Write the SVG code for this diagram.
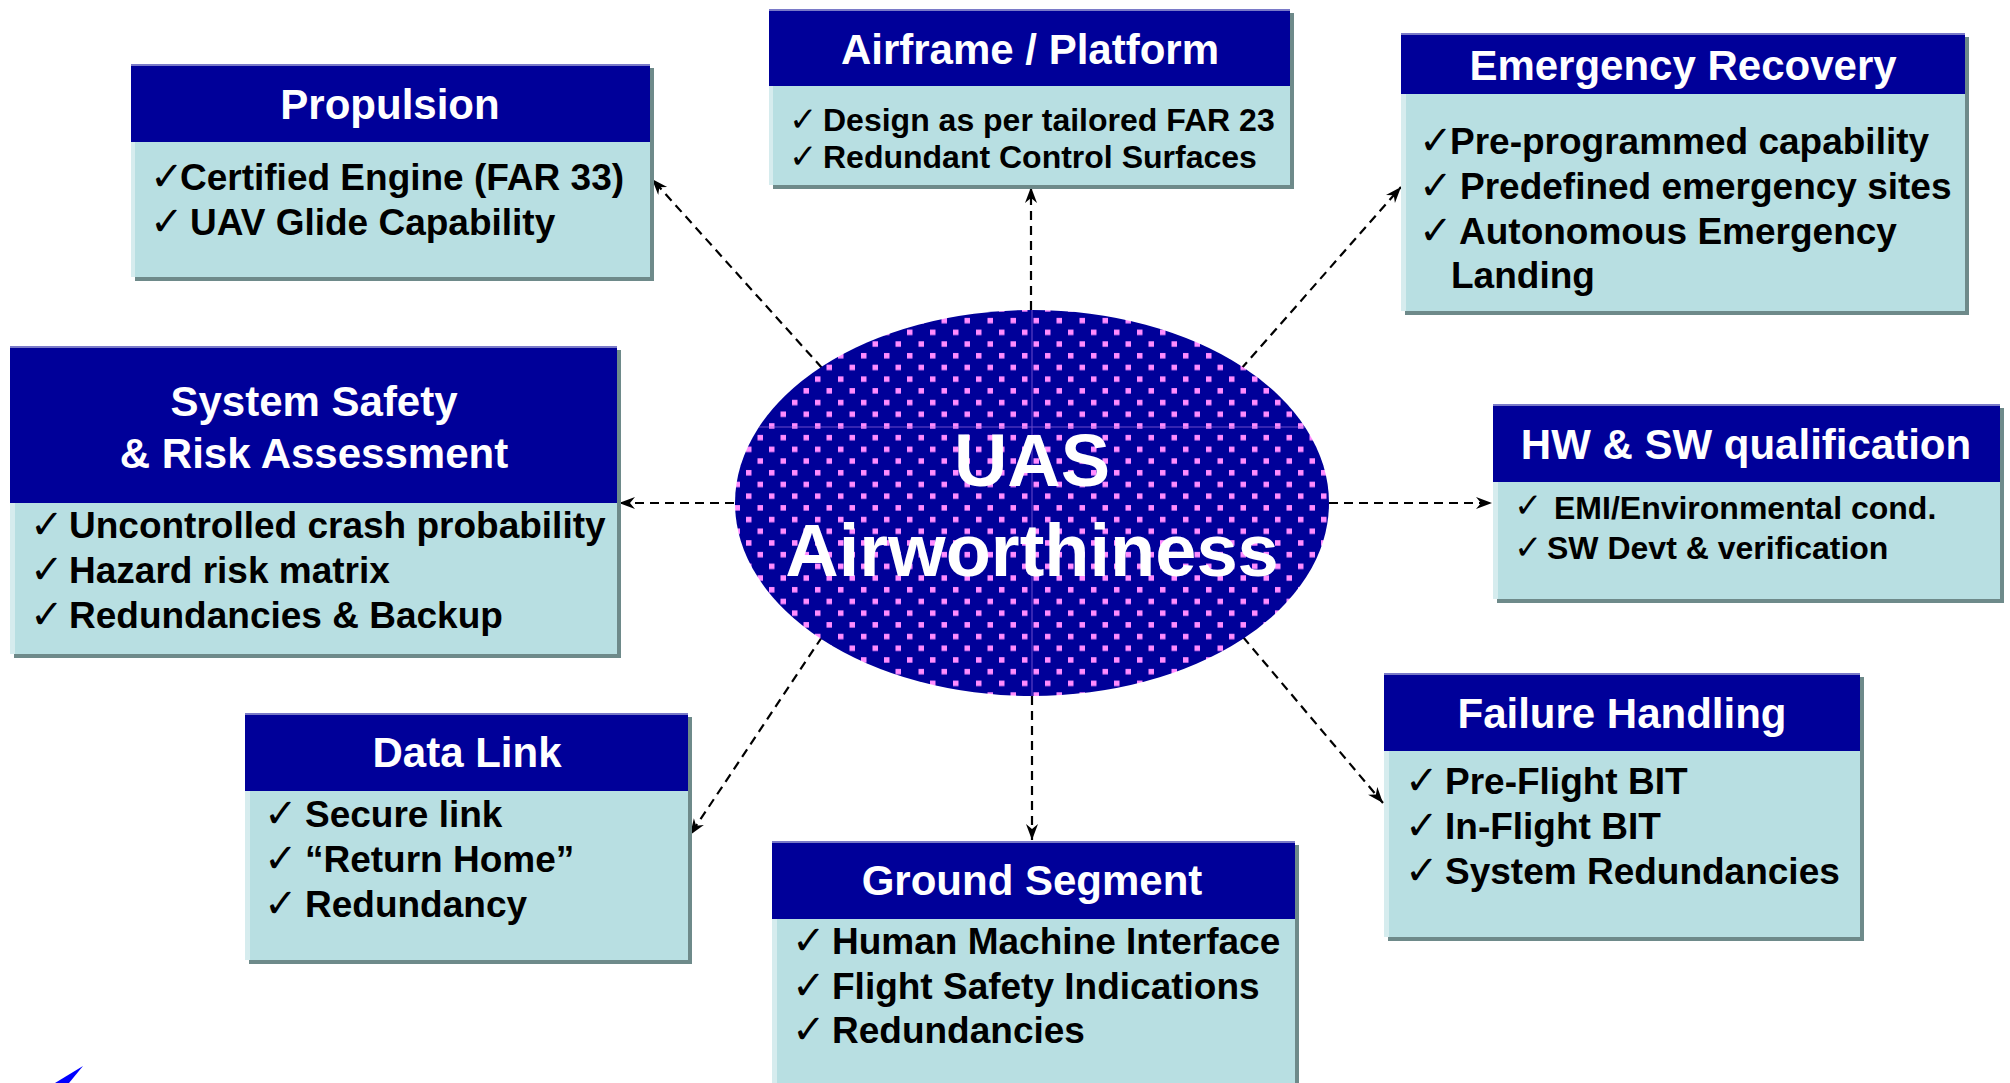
<svg xmlns="http://www.w3.org/2000/svg" width="2010" height="1083" viewBox="0 0 2010 1083">
<style>
.shadow{fill:#6e8a8a}
.body{fill:#b8dfe2}
.hl{fill:#d6ecee}
.head{fill:#000099}
.headhl{fill:#7a7ac8}
.title{font-family:"Liberation Sans",Arial,sans-serif;font-weight:bold;font-size:42px;fill:#ffffff;text-anchor:middle}
.item{font-family:"Liberation Sans",Arial,sans-serif;font-weight:bold;font-size:37px;fill:#000000}
.small{font-size:32px}
.chk{font-family:"DejaVu Sans",sans-serif;font-size:40px;fill:#000000}
.chks{font-size:34px}
.conn{stroke:#000000;stroke-width:2.2;stroke-dasharray:9 6;fill:none;marker-end:url(#arr)}
.big{font-family:"Liberation Sans",Arial,sans-serif;font-weight:bold;font-size:74px;fill:#ffffff;text-anchor:middle}
</style>
<defs>
<marker id="arr" markerUnits="userSpaceOnUse" markerWidth="18" markerHeight="14" refX="16" refY="6" orient="auto">
<path d="M0,0 L16,6 L0,12 L5,6 Z" fill="#000000"/>
</marker>
<pattern id="dots" patternUnits="userSpaceOnUse" x="1020" y="0" width="23" height="23.4">
<rect x="0" y="0" width="23" height="23.4" fill="#000099"/>
<rect x="2" y="2" width="5.5" height="5.5" fill="#ff8cff"/>
<rect x="13.5" y="13.7" width="5.5" height="5.5" fill="#ff8cff"/>
</pattern>
<clipPath id="ellclip"><ellipse cx="1032" cy="503" rx="297" ry="193"/></clipPath>
</defs>
<rect width="2010" height="1083" fill="#ffffff"/>

<g id="connectors">
<line class="conn" x1="822" y1="368" x2="652" y2="179"/>
<line class="conn" x1="1031" y1="310" x2="1031" y2="187"/>
<line class="conn" x1="1241" y1="369" x2="1401" y2="187"/>
<line class="conn" x1="734" y1="503" x2="619" y2="503"/>
<line class="conn" x1="1329" y1="503" x2="1492" y2="503"/>
<line class="conn" x1="822" y1="637" x2="690" y2="835"/>
<line class="conn" x1="1032" y1="696" x2="1032" y2="840"/>
<line class="conn" x1="1243" y1="637" x2="1383" y2="803"/>
</g>

<g id="center">
<ellipse cx="1032" cy="503" rx="297" ry="193" fill="url(#dots)"/>
<g clip-path="url(#ellclip)" stroke="#9a6ae0" stroke-width="1" opacity="0.7">
<line x1="1032" y1="300" x2="1032" y2="710"/>
<line x1="730" y1="427" x2="1340" y2="427"/>
</g>
<text class="big" x="1032" y="486">UAS</text>
<text class="big" x="1032" y="576">Airworthiness</text>
</g>

<g id="propulsion">
<rect class="shadow" x="135" y="68" width="519" height="213"/>
<rect class="body" x="131" y="64" width="519" height="213"/>
<rect class="hl" x="131" y="142" width="4" height="135"/>
<rect class="head" x="131" y="64" width="519" height="78"/>
<rect class="headhl" x="131" y="64" width="519" height="2"/>
<text class="title" x="390" y="119">Propulsion</text>
<text class="chk" x="150" y="190">✓</text><text class="item" x="180" y="190">Certified Engine (FAR 33)</text>
<text class="chk" x="150" y="235">✓</text><text class="item" x="190" y="235">UAV Glide Capability</text>
</g>

<g id="airframe">
<rect class="shadow" x="773" y="13" width="521" height="176"/>
<rect class="body" x="769" y="9" width="521" height="176"/>
<rect class="hl" x="769" y="86" width="4" height="99"/>
<rect class="head" x="769" y="9" width="521" height="77"/>
<rect class="headhl" x="769" y="9" width="521" height="2"/>
<text class="title" x="1030" y="64">Airframe / Platform</text>
<text class="chk chks" x="789" y="131">✓</text><text class="item small" x="823" y="131">Design as per tailored FAR 23</text>
<text class="chk chks" x="789" y="168">✓</text><text class="item small" x="823" y="168">Redundant Control Surfaces</text>
</g>

<g id="emergency">
<rect class="shadow" x="1405" y="37" width="564" height="278"/>
<rect class="body" x="1401" y="33" width="564" height="278"/>
<rect class="hl" x="1401" y="94" width="5" height="217"/>
<rect class="head" x="1401" y="33" width="564" height="61"/>
<rect class="headhl" x="1401" y="33" width="564" height="2"/>
<text class="title" x="1683" y="80">Emergency Recovery</text>
<text class="chk" x="1419" y="154">✓</text><text class="item" x="1450" y="154">Pre-programmed capability</text>
<text class="chk" x="1419" y="199">✓</text><text class="item" x="1460" y="199">Predefined emergency sites</text>
<text class="chk" x="1419" y="244">✓</text><text class="item" x="1459" y="244">Autonomous Emergency</text>
<text class="item" x="1451" y="288">Landing</text>
</g>

<g id="safety">
<rect class="shadow" x="14" y="350" width="607" height="308"/>
<rect class="body" x="10" y="346" width="607" height="308"/>
<rect class="hl" x="10" y="503" width="5" height="151"/>
<rect class="head" x="10" y="346" width="607" height="157"/>
<rect class="headhl" x="10" y="346" width="607" height="2"/>
<text class="title" x="314" y="416">System Safety</text>
<text class="title" x="314" y="468">&amp; Risk Assessment</text>
<text class="chk" x="30" y="538">✓</text><text class="item" x="69" y="538">Uncontrolled crash probability</text>
<text class="chk" x="30" y="583">✓</text><text class="item" x="69" y="583">Hazard risk matrix</text>
<text class="chk" x="30" y="628">✓</text><text class="item" x="69" y="628">Redundancies &amp; Backup</text>
</g>

<g id="hwsw">
<rect class="shadow" x="1497" y="408" width="507" height="195"/>
<rect class="body" x="1493" y="404" width="507" height="195"/>
<rect class="hl" x="1493" y="482" width="5" height="117"/>
<rect class="head" x="1493" y="404" width="507" height="78"/>
<rect class="headhl" x="1493" y="404" width="507" height="2"/>
<text class="title" x="1746" y="459">HW &amp; SW qualification</text>
<text class="chk chks" x="1514" y="517">✓</text><text class="item small" x="1554" y="519">EMI/Environmental cond.</text>
<text class="chk chks" x="1514" y="559">✓</text><text class="item small" x="1547" y="559">SW Devt &amp; verification</text>
</g>

<g id="failure">
<rect class="shadow" x="1388" y="677" width="476" height="264"/>
<rect class="body" x="1384" y="673" width="476" height="264"/>
<rect class="hl" x="1384" y="751" width="5" height="186"/>
<rect class="head" x="1384" y="673" width="476" height="78"/>
<rect class="headhl" x="1384" y="673" width="476" height="2"/>
<text class="title" x="1622" y="728">Failure Handling</text>
<text class="chk" x="1405" y="794">✓</text><text class="item" x="1445" y="794">Pre-Flight BIT</text>
<text class="chk" x="1405" y="839">✓</text><text class="item" x="1445" y="839">In-Flight BIT</text>
<text class="chk" x="1405" y="884">✓</text><text class="item" x="1445" y="884">System Redundancies</text>
</g>

<g id="ground">
<rect class="shadow" x="776" y="845" width="523" height="260"/>
<rect class="body" x="772" y="841" width="523" height="260"/>
<rect class="hl" x="772" y="919" width="5" height="170"/>
<rect class="head" x="772" y="841" width="523" height="78"/>
<rect class="headhl" x="772" y="841" width="523" height="2"/>
<text class="title" x="1032" y="895">Ground Segment</text>
<text class="chk" x="792" y="954">✓</text><text class="item" x="832" y="954">Human Machine Interface</text>
<text class="chk" x="792" y="999">✓</text><text class="item" x="832" y="999">Flight Safety Indications</text>
<text class="chk" x="792" y="1043">✓</text><text class="item" x="832" y="1043">Redundancies</text>
</g>

<g id="datalink">
<rect class="shadow" x="249" y="717" width="443" height="247"/>
<rect class="body" x="245" y="713" width="443" height="247"/>
<rect class="hl" x="245" y="791" width="5" height="169"/>
<rect class="head" x="245" y="713" width="443" height="78"/>
<rect class="headhl" x="245" y="713" width="443" height="2"/>
<text class="title" x="467" y="767">Data Link</text>
<text class="chk" x="264" y="827">✓</text><text class="item" x="305" y="827">Secure link</text>
<text class="chk" x="264" y="872">✓</text><text class="item" x="305" y="872">“Return Home”</text>
<text class="chk" x="264" y="917">✓</text><text class="item" x="305" y="917">Redundancy</text>
</g>

<g id="logo">
<polygon points="55,1083 83,1066 69,1083" fill="#0000ff"/>
</g>
</svg>
